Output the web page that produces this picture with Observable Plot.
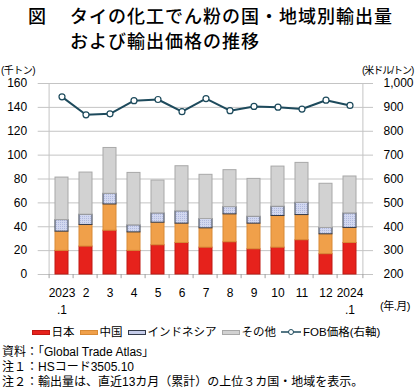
<!DOCTYPE html>
<html><head><meta charset="utf-8">
<script src="https://cdn.jsdelivr.net/npm/d3@7"></script>
<script src="https://cdn.jsdelivr.net/npm/@observablehq/plot@0.6"></script>
<style>
body{margin:0;background:#fff;font-family:"Liberation Sans","Noto Sans CJK JP",sans-serif;color:#000}
#wrap{position:relative;width:420px;height:390px;overflow:hidden}
.abs{position:absolute;white-space:nowrap}
.cjk{font-family:"Noto Sans CJK JP",sans-serif}
#legend{position:absolute;left:0;width:412px;top:324px;display:flex;justify-content:center;gap:5px;font-size:11.5px;line-height:16px}
#legend .it{display:flex;align-items:center;gap:2px}
#legend .sw{display:inline-block;width:18px;height:5px;box-sizing:border-box}
#notes{position:absolute;left:2px;top:345px;font-size:12px;line-height:15px}
svg.main{position:absolute;left:0;top:58px}
</style></head><body><div id="wrap">
<div class="abs cjk" style="left:28px;top:5px;font-size:18px;line-height:20px;font-weight:500">図</div>
<div class="abs cjk" style="left:70px;top:5px;font-size:18px;line-height:20px;letter-spacing:1px;font-weight:500">タイの化工でん粉の国・地域別輸出量</div>
<div class="abs cjk" style="left:70px;top:30px;font-size:18px;line-height:20px;letter-spacing:1px;font-weight:500">および輸出価格の推移</div>
<div class="abs" style="left:1px;top:62px;font-size:10px;letter-spacing:-0.5px">(千トン)</div>
<div class="abs" style="left:362px;top:62px;font-size:10px;letter-spacing:-1px">(米ドル/トン)</div>
<div class="abs" style="left:380px;top:297px;font-size:11px;letter-spacing:-0.5px">(年.月)</div>
<div id="legend"></div>
<div id="notes">
<div>資料：「Global Trade Atlas」</div>
<div>注１：HSコード3505.10</div>
<div>注２：輸出量は、直近13カ月（累計）の上位３カ国・地域を表示。</div>
</div>
</div>
<script>
const months = ["2023\n.1","2","3","4","5","6","7","8","9","10","11","12","2024\n.1"];
const japan = [19.8, 23.4, 36.7, 19.8, 24.5, 26.4, 22.5, 27.0, 21.1, 22.5, 28.7, 17.0, 26.4];
const china = [16.1, 18.1, 22.0, 15.5, 18.9, 16.2, 16.2, 23.4, 21.5, 26.5, 21.1, 16.7, 12.6];
const indonesia = [9.7, 8.6, 8.9, 5.9, 7.8, 10.3, 7.8, 6.1, 5.8, 7.8, 10.3, 5.3, 12.2];
const others = [35.6, 35.3, 38.4, 43.9, 27.5, 37.8, 37.0, 30.9, 31.7, 33.6, 33.4, 37.0, 30.9];
const fobPrice = [944, 869, 873, 928, 933, 882, 937, 886, 904, 901, 893, 930, 908];
const leftTicks = [0,20,40,60,80,100,120,140,160];
const rightTicks = [200,300,400,500,600,700,800,900,1000];
const seriesNames = ["日本","中国","インドネシア","その他"];
const seriesVals = [japan, china, indonesia, others];
const fills = ["#e6221c","#f0a04a","#c6cdea","#d2d2d2"];
const barFills = ["#e6221c","#f0a04a","url(#indoPat)","#d2d2d2"];
const strokes = ["#c01812","#d88a36","#333a4a","#a8a8a8"];
const lineColor = "#1d4a5c";

const rows = [];
seriesNames.forEach((s, si) => seriesVals[si].forEach((v, i) => rows.push({month: months[i], series: s, value: v})));
const toLeft = p => (p - 200) / 5;
const priceRows = fobPrice.map((p, i) => ({month: months[i], y: toLeft(p)}));

const W = 420, H = 262, mL = 37.7, mR = 47;
const step = (W - mL - mR) / months.length;

const chart = Plot.plot({
  width: W, height: H, className: "main",
  marginLeft: mL, marginRight: mR, marginTop: 25, marginBottom: 46,
  style: {fontFamily: '"Liberation Sans", sans-serif', fontSize: "12px", color: "#000", background: "transparent"},
  x: {type: "band", domain: months, padding: 0.46, label: null},
  y: {domain: [0, 160], label: null},
  color: {type: "ordinal", domain: seriesNames, range: barFills},
  marks: [
    Plot.ruleY(leftTicks, {stroke: "#c4c4c4", strokeWidth: 1}),
    Plot.ruleX([months[0]], {dx: -step/2, stroke: "#c4c4c4"}),
    Plot.ruleX([months[months.length-1]], {dx: step/2, stroke: "#c4c4c4"}),
    Plot.ruleX(months, {dx: -step/2, y1: 0, y2: -3.5, stroke: "#a0a0a0"}),
    Plot.ruleX([months[months.length-1]], {dx: step/2, y1: 0, y2: -3.5, stroke: "#a0a0a0"}),
    Plot.barY(rows, Plot.stackY({x: "month", y: "value", fill: "series", order: seriesNames,
      stroke: d => strokes[seriesNames.indexOf(d.series)], strokeWidth: 1, inset: 0})),
    Plot.line(priceRows, {x: "month", y: "y", stroke: lineColor, strokeWidth: 2}),
    Plot.dot(priceRows, {x: "month", y: "y", r: 3, fill: "#fff", stroke: lineColor, strokeWidth: 1.2}),
    Plot.axisY(leftTicks, {anchor: "left", tickSize: 0, tickPadding: 11, label: null, fontSize: 12}),
    Plot.axisY(rightTicks.map(toLeft), {anchor: "right", tickSize: 0, tickPadding: 10, label: null,
      tickFormat: d => d3.format(",")(d * 5 + 200), fontSize: 12}),
    Plot.axisX({tickSize: 0, tickPadding: 10, label: null, lineHeight: 1.45, fontSize: 12})
  ]
});
// fine dotted texture for the Indonesia segments
const ns = "http://www.w3.org/2000/svg";
const defs = document.createElementNS(ns, "defs");
defs.innerHTML = `<pattern id="indoPat" width="2" height="2" patternUnits="userSpaceOnUse">
  <rect width="2" height="2" fill="#d2d8f0"/><rect x="0" y="0" width="1" height="1" fill="#b0b9de"/></pattern>`;
chart.insertBefore(defs, chart.firstChild);
document.getElementById("wrap").appendChild(chart);

const legend = document.getElementById("legend");
seriesNames.forEach((s, i) => {
  const it = document.createElement("div"); it.className = "it";
  const sw = document.createElement("span"); sw.className = "sw";
  sw.style.background = fills[i]; sw.style.border = `1px solid ${strokes[i]}`;
  it.appendChild(sw);
  const t = document.createElement("span"); t.textContent = s; it.appendChild(t);
  legend.appendChild(it);
});
{
  const it = document.createElement("div"); it.className = "it";
  it.innerHTML = `<svg width="20" height="8"><line x1="0" y1="4" x2="20" y2="4" stroke="${lineColor}" stroke-width="1.5"/><circle cx="10" cy="4" r="2.5" fill="#fff" stroke="${lineColor}" stroke-width="1"/></svg>`;
  const t = document.createElement("span"); t.textContent = "FOB価格(右軸)"; it.appendChild(t);
  legend.appendChild(it);
}
</script>
</body></html>
